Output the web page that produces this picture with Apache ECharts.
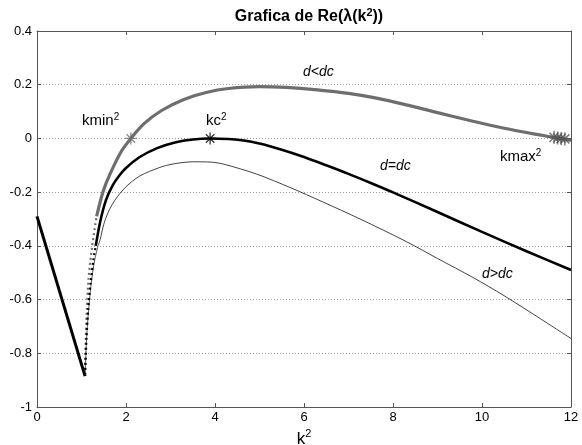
<!DOCTYPE html>
<html>
<head>
<meta charset="utf-8">
<script src="https://cdn.jsdelivr.net/npm/echarts@6/dist/echarts.min.js"></script>
<style>
  html, body { margin: 0; padding: 0; background: #fff; overflow: hidden; }
  #chart { width: 582px; height: 445px; }
</style>
</head>
<body>
<div id="chart"></div>
<script>
// Axis ticks
const xTicks = [0, 2, 4, 6, 8, 10, 12];
const yTicks = [-1, -0.8, -0.6, -0.4, -0.2, 0, 0.2, 0.4];

// Re(lambda) for complex eigenvalues (0 < k^2 < ~1.08), shared by all cases
const complexBranch = [[0, -0.29], [1.08, -0.885]];

// d < dc : steep, sparsely sampled start, then the main curve
const riseLow = [[1.08, -0.88], [1.095, -0.76], [1.12, -0.64], [1.16, -0.52], [1.24, -0.4], [1.34, -0.29]];
const curveLow = [[1.34, -0.29], [1.48, -0.2], [1.64, -0.133], [1.9, -0.047], [2.11, 0], [2.4, 0.054],
  [2.8, 0.104], [3.3, 0.145], [3.8, 0.171], [4.3, 0.186], [5.0, 0.193], [5.6, 0.19], [6.3, 0.181],
  [7.0, 0.168], [7.6, 0.151], [8.3, 0.125], [9.0, 0.096], [9.8, 0.064], [10.5, 0.038], [11.3, 0.013],
  [11.75, 0], [12, -0.007]];

// d = dc
const riseCrit = [[1.08, -0.88], [1.11, -0.75], [1.15, -0.64], [1.21, -0.53], [1.27, -0.45], [1.32, -0.4]];
const curveCrit = [[1.32, -0.4], [1.42, -0.31], [1.55, -0.23], [1.7, -0.175], [1.85, -0.138], [2.0, -0.11],
  [2.3, -0.07], [2.7, -0.036], [3.1, -0.015], [3.5, -0.004], [3.89, 0], [4.3, -0.002], [4.6, -0.007],
  [5.0, -0.019], [5.5, -0.042], [6.0, -0.069], [6.5, -0.1], [7.0, -0.132], [7.5, -0.166], [8.0, -0.201],
  [9.0, -0.274], [10.0, -0.348], [11.0, -0.42], [12, -0.49]];

// d > dc
const riseHigh = [[1.08, -0.88], [1.12, -0.73], [1.18, -0.6], [1.25, -0.5], [1.3, -0.45], [1.37, -0.4]];
const curveHigh = [[1.37, -0.4], [1.42, -0.376], [1.5, -0.32], [1.6, -0.275], [1.75, -0.23], [2.0, -0.18],
  [2.31, -0.14], [2.76, -0.108], [3.06, -0.095], [3.5, -0.087], [3.9, -0.088], [4.2, -0.096],
  [4.94, -0.133], [5.69, -0.183], [6.43, -0.237], [7.26, -0.3], [8.31, -0.385], [9.0, -0.447],
  [9.8, -0.518], [10.5, -0.586], [11.3, -0.67], [12, -0.745]];

// Marked wavenumbers
const kminPoints = [[2.11, 0]];
const kcPoints = [[3.89, 0]];
const kmaxPoints = [[11.62, 0.004], [11.7, 0.002], [11.78, 0], [11.86, -0.002]];

const GRAY = '#6e6e6e';
const FONT = '"Liberation Sans", Arial, Helvetica, sans-serif';

// Asterisk marker built from four thin filled bars (0°, 45°, 90°, 135°)
function starPath() {
  const L = 10, w = 1.1;
  let d = '';
  [0, 45, 90, 135].forEach(deg => {
    const a = deg * Math.PI / 180, c = Math.cos(a), s = Math.sin(a);
    const pts = [[-L, -w], [L, -w], [L, w], [-L, w]].map(p =>
      [(p[0] * c - p[1] * s).toFixed(3), (p[0] * s + p[1] * c).toFixed(3)]);
    d += 'M' + pts[0].join(',') + 'L' + pts[1].join(',') + 'L' + pts[2].join(',') + 'L' + pts[3].join(',') + 'Z';
  });
  return 'path://' + d;
}
const STAR = starPath();

const chart = echarts.init(document.getElementById('chart'), null, { renderer: 'canvas' });

function line(data, color, width, type) {
  return {
    type: 'line', data: data, xAxisIndex: 0, yAxisIndex: 0,
    showSymbol: false, symbol: 'none', smooth: 0.3,
    animation: false, silent: true,
    lineStyle: { color: color, width: width, type: type || 'solid' }, z: 3
  };
}
function stars(data, color, size) {
  return {
    type: 'scatter', data: data, xAxisIndex: 0, yAxisIndex: 0,
    symbol: STAR, symbolSize: size, symbolKeepAspect: true, animation: false, silent: true, z: 5,
    itemStyle: { color: color }
  };
}
// Upright label with a superscript "2"
function supLabel(base, left, top) {
  return { type: 'text', left: left, top: top, style: { text: '{a|' + base + '}{b|2}', rich: {
    a: { fontFamily: FONT, fontSize: 15, fill: '#000', lineHeight: 18 },
    b: { fontFamily: FONT, fontSize: 10, fill: '#000', verticalAlign: 'top', lineHeight: 18 } } } };
}
function italicLabel(text, left, top) {
  return { type: 'text', left: left, top: top, style: { text: text, font: 'italic 14px ' + FONT, fill: '#000' } };
}

const axisBase = {
  min: 0, max: 12, interval: 2,
  axisLine: { show: true, onZero: false, lineStyle: { color: '#555', width: 1 } },
  axisTick: { show: true, inside: true, length: 4, lineStyle: { color: '#555' } },
  splitLine: { show: false }
};
const yBase = {
  min: -1, max: 0.4, interval: 0.2,
  axisLine: { show: true, onZero: false, lineStyle: { color: '#555', width: 1 } },
  axisTick: { show: true, inside: true, length: 4, lineStyle: { color: '#555' } }
};

chart.setOption({
  animation: false,
  backgroundColor: '#fff',
  title: {
    text: '{t|Grafica de Re(λ(k}{s|2}{t|))}',
    left: 304, top: 2, textAlign: 'center',
    textStyle: {
      rich: {
        t: { fontFamily: FONT, fontWeight: 'bold', fontSize: 16, color: '#000', lineHeight: 20 },
        s: { fontFamily: FONT, fontWeight: 'bold', fontSize: 11, color: '#000', verticalAlign: 'top', lineHeight: 20 }
      }
    }
  },
  grid: { left: 37, right: 11, top: 31, bottom: 38, containLabel: false, outerBoundsMode: 'none' },
  xAxis: [
    Object.assign({}, axisBase, {
      type: 'value', position: 'bottom',
      axisLabel: { color: '#000', fontFamily: FONT, fontSize: 13, margin: 4,
        formatter: v => xTicks.includes(v) ? String(v) : '' },
      name: '{a|k}{b|2}', nameLocation: 'middle', nameGap: 18,
      nameTextStyle: {
        rich: {
          a: { fontFamily: FONT, fontSize: 17, color: '#000', lineHeight: 20 },
          b: { fontFamily: FONT, fontSize: 11, color: '#000', verticalAlign: 'top', lineHeight: 20 }
        }
      }
    }),
    Object.assign({}, axisBase, { type: 'value', position: 'top', axisLabel: { show: false } })
  ],
  yAxis: [
    Object.assign({}, yBase, {
      type: 'value', position: 'left',
      axisLabel: { color: '#000', fontFamily: FONT, fontSize: 13, margin: 5,
        formatter: v => {
          const t = yTicks.find(u => Math.abs(u - v) < 1e-9);
          return t === undefined ? '' : String(Math.round(t * 10) / 10);
        } },
      splitLine: { show: true, lineStyle: { color: '#9a9a9a', type: [1, 2], width: 1 } }
    }),
    Object.assign({}, yBase, { type: 'value', position: 'right', axisLabel: { show: false }, splitLine: { show: false } })
  ],
  series: [
    line(complexBranch, '#000', 3),
    line(curveHigh, '#111', 0.8),
    line(riseHigh, '#333', 0.8),
    line(curveLow, GRAY, 3.2),
    line(riseLow, GRAY, 2.2, [2, 3]),
    line(curveCrit, '#000', 2.6),
    line(riseCrit, '#000', 2.2, [2, 3]),
    stars(kminPoints, GRAY, 12),
    stars(kcPoints, '#000', 12),
    stars(kmaxPoints, '#555', 13)
  ],
  graphic: [
    supLabel('kmin', 82, 112),
    supLabel('kc', 206, 112),
    supLabel('kmax', 500, 148),
    italicLabel('d<dc', 303, 65),
    italicLabel('d=dc', 380, 159),
    italicLabel('d>dc', 482, 267)
  ]
});
</script>
</body>
</html>
